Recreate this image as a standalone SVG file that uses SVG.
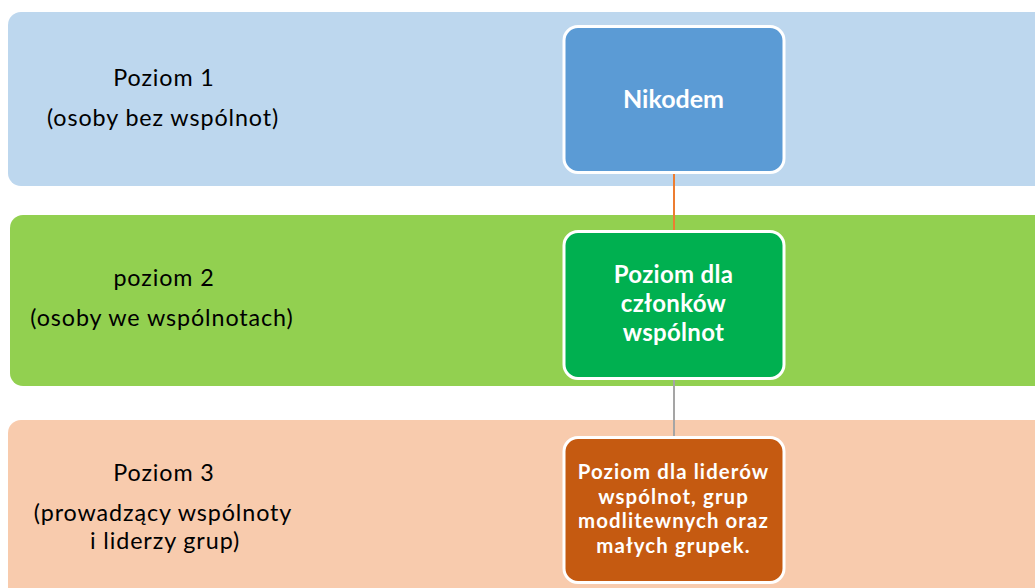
<svg xmlns="http://www.w3.org/2000/svg" width="1035" height="588" viewBox="0 0 1035 588">
<style>
.lbl{font-family:Lato,"Open Sans",sans-serif;font-size:23.3px;letter-spacing:0.9px;fill:#000;text-anchor:middle}
.box{stroke:#fff;stroke-width:3}
.bt{font-family:Lato,"Open Sans",sans-serif;font-weight:bold;fill:#fff;text-anchor:middle}
</style>
<rect width="1035" height="588" fill="#fff"/>
<g id="band1">
<rect x="8" y="12" width="1060" height="174" rx="13" fill="#BDD7EE"/>
<text class="lbl" x="164" y="86">Poziom 1</text>
<text class="lbl" x="163" y="126">(osoby bez wspólnot)</text>
</g>
<g id="band2">
<rect x="10" y="215" width="1060" height="171" rx="13" fill="#92D050"/>
<text class="lbl" x="164" y="286">poziom 2</text>
<text class="lbl" x="162" y="326">(osoby we wspólnotach)</text>
</g>
<g id="band3">
<rect x="8" y="420" width="1060" height="190" rx="13" fill="#F8CBAD"/>
<text class="lbl" x="164" y="481">Poziom 3</text>
<text class="lbl" x="163" y="521">(prowadzący wspólnoty</text>
<text class="lbl" x="165" y="549">i liderzy grup)</text>
</g>
<g id="connectors" stroke-width="2" fill="none">
<line x1="674" y1="173" x2="674" y2="230" stroke="#ED7D31"/>
<line x1="674" y1="380" x2="674" y2="436" stroke="#A5A5A5"/>
</g>
<g id="node1">
<rect class="box" x="564" y="26.5" width="220" height="146" rx="14" fill="#5B9BD5"/>
<text class="bt" x="673.5" y="108" font-size="25">Nikodem</text>
</g>
<g id="node2">
<rect class="box" x="564" y="231.5" width="220" height="147" rx="14" fill="#00B050"/>
<text class="bt" x="673.5" y="283" font-size="24" letter-spacing="0.3">Poziom dla</text>
<text class="bt" x="673.5" y="312" font-size="24" letter-spacing="0.3">członków</text>
<text class="bt" x="673.5" y="341" font-size="24" letter-spacing="0.3">wspólnot</text>
</g>
<g id="node3">
<rect class="box" x="564" y="437.5" width="220" height="145" rx="14" fill="#C55A11"/>
<text class="bt" x="673.5" y="479" font-size="20.4" letter-spacing="1.1">Poziom dla liderów</text>
<text class="bt" x="673.5" y="503.5" font-size="20.4" letter-spacing="1.1">wspólnot, grup</text>
<text class="bt" x="673.5" y="528" font-size="20.4" letter-spacing="1.1">modlitewnych oraz</text>
<text class="bt" x="673.5" y="552.5" font-size="20.4" letter-spacing="1.1">małych grupek.</text>
</g>
</svg>
